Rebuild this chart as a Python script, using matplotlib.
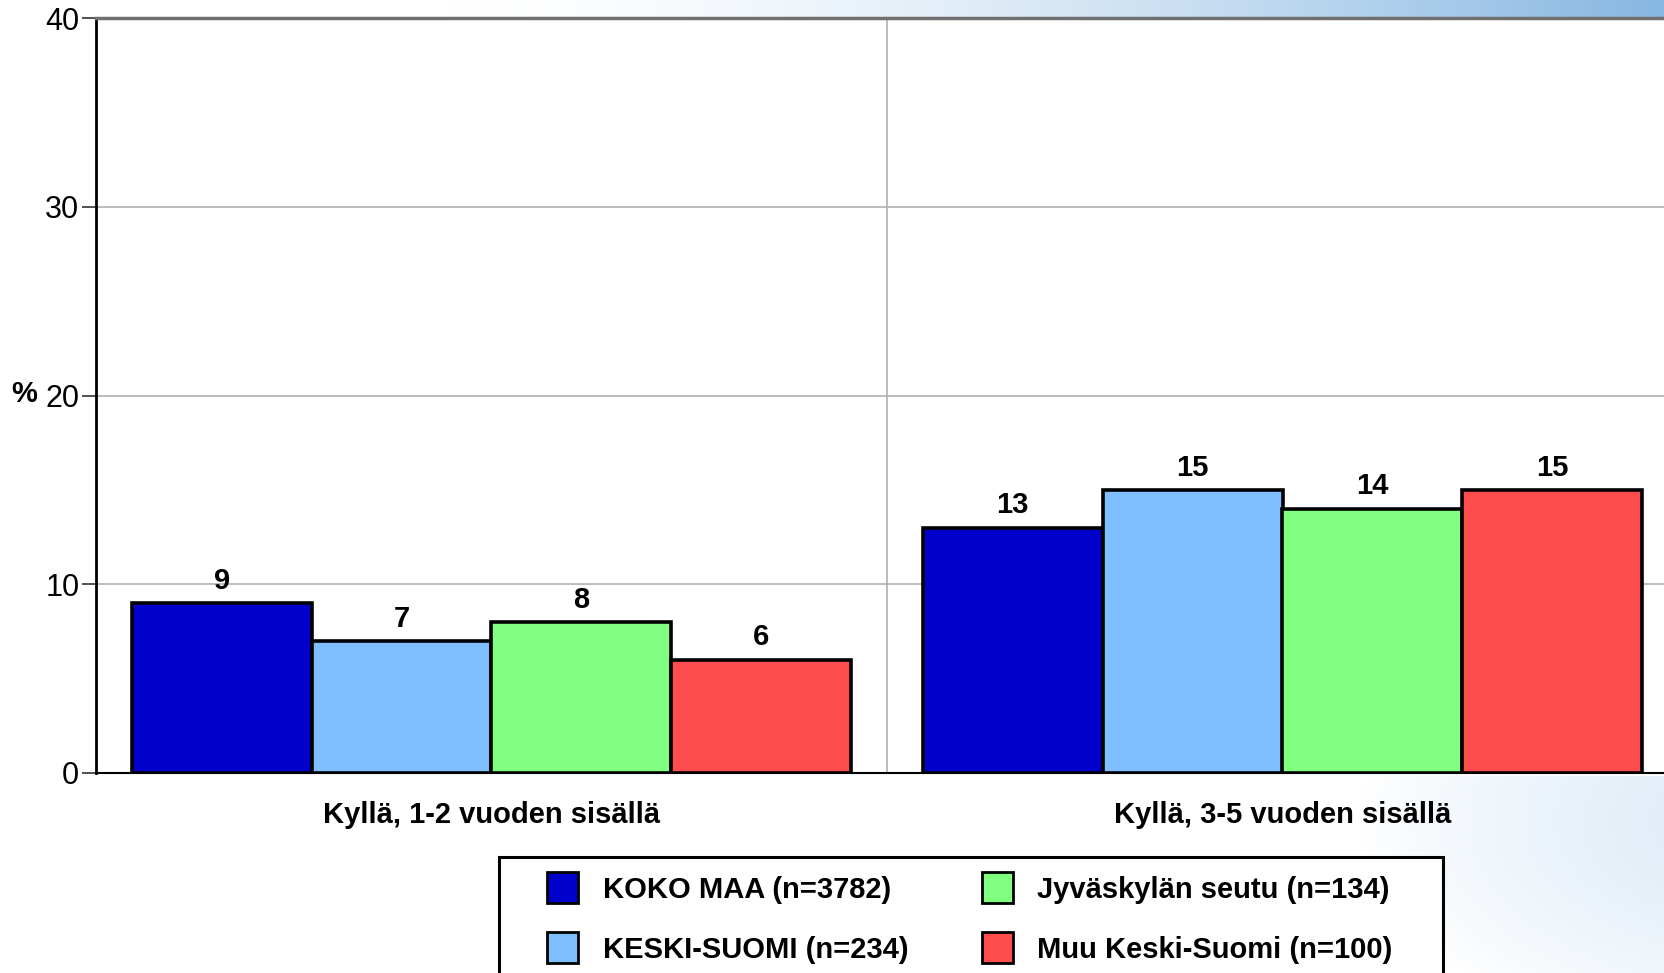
import matplotlib
matplotlib.use("Agg")
import matplotlib.pyplot as plt
from matplotlib.patches import Rectangle
import numpy as np

categories = ["Kyllä, 1-2 vuoden sisällä", "Kyllä, 3-5 vuoden sisällä"]
series = ["KOKO MAA (n=3782)", "KESKI-SUOMI (n=234)",
          "Jyväskylän seutu (n=134)", "Muu Keski-Suomi (n=100)"]
values = [[9, 13], [7, 15], [8, 14], [6, 15]]
colors = ["#0000CC", "#80BFFF", "#80FF80", "#FF4C4C"]
yticks = [0, 10, 20, 30, 40]

plt.rcParams['font.family'] = ['Liberation Sans', 'DejaVu Sans']

W, H = 1664, 973
fig = plt.figure(figsize=(W/100, H/100), dpi=100)
fig.patch.set_facecolor("white")

# background gradient
bg = fig.add_axes([0, 0, 1, 1], zorder=-10)
yy, xx = np.mgrid[0:H, 0:W]
img = np.ones((H, W, 3))
base = np.array([0.50, 0.70, 0.88])
t = np.clip((xx - 450) / (W - 450), 0, 1) ** 1.6
band = (yy < 20).astype(float)
a1 = t * band * 0.95
d = np.sqrt(((xx - 1780) / 420.0) ** 2 + ((yy - 820) / 230.0) ** 2)
a2 = np.clip(1 - d, 0, 1) ** 0.8 * 0.30 * (yy > 775)
a = np.clip(a1 + a2, 0, 1)[..., None]
img = img * (1 - a) + base * a
bg.imshow(img, aspect='auto', extent=[0, 1, 0, 1])
bg.axis('off')

ax = fig.add_axes([96/W, 1 - 773/H, 1582/W, (773-18)/H])
ax.set_facecolor("white")

x = np.arange(len(categories))
bw = 0.2275
for i, (name, vals, c) in enumerate(zip(series, values, colors)):
    pos = x + (i - 1.5) * bw
    bars = ax.bar(pos, vals, width=bw, color=c, edgecolor="black",
                  linewidth=2.6, label=name, zorder=3)
    for b, v in zip(bars, vals):
        ax.annotate(f"{v}", (b.get_x() + b.get_width()/2, v),
                    xytext=(0, 6), textcoords="offset points",
                    ha="center", va="bottom", fontsize=21, fontweight="bold")

ax.set_xlim(-0.5, 1.5)
ax.set_ylim(0, 40)
ax.set_yticks(yticks)
ax.set_yticklabels([str(v) for v in yticks], fontsize=22)
ax.set_xticks(x)
ax.set_xticklabels(categories, fontsize=21, fontweight="bold")
ax.tick_params(axis='x', length=0, pad=20)
ax.tick_params(axis='y', length=10, width=1.2, color="#333333", pad=2)
ax.yaxis.grid(True, color="#b0b0b0", linewidth=1.2, zorder=0)
ax.axvline(0.5, color="#b0b0b0", linewidth=1.2, zorder=0)
ax.set_axisbelow(True)
ax.spines["right"].set_visible(False)
ax.spines["top"].set_color("#707070")
ax.spines["top"].set_linewidth(2.5)
ax.spines["left"].set_linewidth(2)
ax.spines["bottom"].set_linewidth(1.5)

# "%" label next to the 20 tick
fig.text(37/W, 1 - 394/H, "%", fontsize=21, fontweight="bold",
         ha="right", va="center")

# legend drawn manually
fig.patches.append(Rectangle((499/W, -0.05), (1443-499)/W, 0.05 + 1 - 857/H,
                             transform=fig.transFigure, facecolor="white",
                             edgecolor="black", linewidth=2.2, zorder=5))
col_patch_x = [547, 982]
col_text_x = [603, 1037]
row_y = [887, 947]
ps = 31
for i, (name, c) in enumerate(zip(series, colors)):
    col, row = i // 2, i % 2
    px, py = col_patch_x[col], row_y[row]
    fig.patches.append(Rectangle((px/W, 1 - (py + ps/2)/H), ps/W, ps/H,
                                 transform=fig.transFigure, facecolor=c,
                                 edgecolor="black", linewidth=2, zorder=6))
    fig.text(col_text_x[col]/W, 1 - py/H, name, fontsize=21,
             fontweight="bold", ha="left", va="center_baseline", zorder=7)

fig.savefig("out.png", dpi=100)
